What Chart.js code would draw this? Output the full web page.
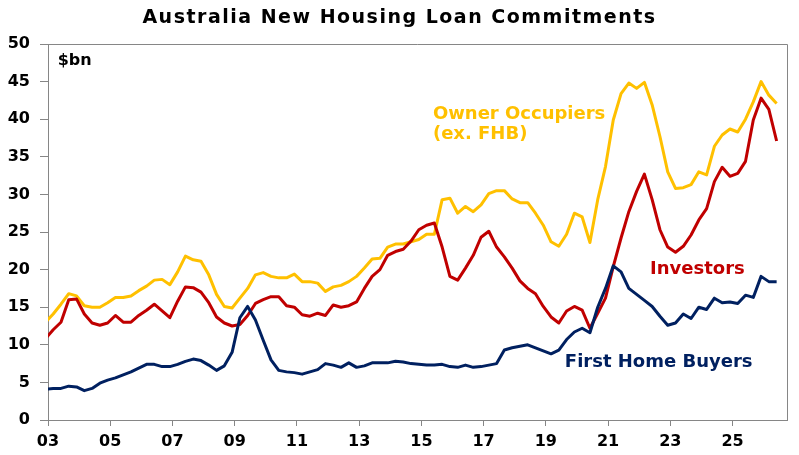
<!DOCTYPE html>
<html>
<head>
<meta charset="utf-8">
<script src="https://cdn.jsdelivr.net/npm/chart.js@4.4.1/dist/chart.umd.min.js"></script>
<style>
    html, body { margin: 0; padding: 0; background: #fff; }
    #wrap { width: 799px; height: 455px; }
</style>
</head>
<body>
<div id="wrap"><canvas id="housing"></canvas></div>
<script>
const title = 'Australia New Housing Loan Commitments'
const unit = '$bn'

// quarters, Dec-02 .. Jun-26
const quarters = ['2002-12']
for (let y = 2003; y <= 2026; y++) {
    for (const m of [3, 6, 9, 12]) {
        if (y === 2026 && m > 6) break
        quarters.push(`${y}-${String(m).padStart(2, '0')}`)
    }
}

const yearTicks = [2003, 2005, 2007, 2009, 2011, 2013, 2015, 2017, 2019, 2021, 2023, 2025]

const ownerOccupiers = [13.0,
    14.1, 15.4, 16.8, 16.5, 15.2, 15.0, 15.0, 15.6, 16.3, 16.3,
    16.5, 17.2, 17.8, 18.6, 18.7, 18.0, 19.7, 21.8, 21.3, 21.1,
    19.3, 16.7, 15.1, 14.9, 16.2, 17.5, 19.3, 19.6, 19.1, 18.9,
    18.9, 19.4, 18.4, 18.4, 18.2, 17.1, 17.7, 17.9, 18.4, 19.1,
    20.2, 21.4, 21.5, 23.0, 23.4, 23.4, 23.7, 24.0, 24.7, 24.7,
    29.3, 29.5, 27.5, 28.4, 27.7, 28.6, 30.1, 30.5, 30.5, 29.4,
    28.9, 28.9, 27.5, 25.9, 23.7, 23.1, 24.7, 27.5, 27.0, 23.6,
    29.3, 33.7, 39.9, 43.4, 44.8, 44.1, 44.9, 41.9, 37.7, 33.0,
    30.8, 30.9, 31.3, 33.0, 32.6, 36.4, 37.9, 38.7, 38.3, 40.0,
    42.3, 45.0, 43.2, 42.1]

const investors = [10.8,
    12.0, 13.0, 16.0, 16.1, 14.1, 12.9, 12.6, 12.9, 13.9, 13.0,
    13.0, 13.9, 14.6, 15.4, 14.5, 13.6, 15.8, 17.7, 17.6, 17.0,
    15.6, 13.7, 12.9, 12.5, 12.7, 13.9, 15.5, 16.0, 16.4, 16.4,
    15.2, 15.0, 14.0, 13.8, 14.2, 13.9, 15.3, 15.0, 15.2, 15.7,
    17.5, 19.1, 20.0, 21.9, 22.4, 22.7, 23.8, 25.3, 25.9, 26.2,
    23.0, 19.1, 18.6, 20.2, 21.9, 24.3, 25.1, 23.0, 21.7, 20.2,
    18.5, 17.5, 16.8, 15.1, 13.7, 12.9, 14.5, 15.1, 14.6, 12.2,
    14.2, 16.2, 20.4, 24.2, 27.7, 30.4, 32.7, 29.3, 25.3, 23.0,
    22.3, 23.1, 24.6, 26.6, 28.1, 31.7, 33.6, 32.4, 32.8, 34.4,
    39.9, 42.8, 41.3, 37.1]

const firstHomeBuyers = [4.1,
    4.2, 4.2, 4.5, 4.4, 3.9, 4.2, 4.9, 5.3, 5.6, 6.0,
    6.4, 6.9, 7.4, 7.4, 7.1, 7.1, 7.4, 7.8, 8.1, 7.9,
    7.3, 6.6, 7.2, 9.0, 13.6, 15.1, 13.3, 10.6, 8.0, 6.6,
    6.4, 6.3, 6.1, 6.4, 6.7, 7.5, 7.3, 7.0, 7.6, 7.0,
    7.2, 7.6, 7.6, 7.6, 7.8, 7.7, 7.5, 7.4, 7.3, 7.3,
    7.4, 7.1, 7.0, 7.3, 7.0, 7.1, 7.3, 7.5, 9.3, 9.6,
    9.8, 10.0, 9.6, 9.2, 8.8, 9.3, 10.7, 11.7, 12.2, 11.6,
    15.0, 17.5, 20.5, 19.7, 17.5, 16.7, 15.9, 15.1, 13.8, 12.6,
    12.9, 14.1, 13.5, 15.0, 14.7, 16.2, 15.6, 15.7, 15.5, 16.6,
    16.3, 19.1, 18.4, 18.4]

const GOLD = '#FFC000'
const RED = '#C00000'
const NAVY = '#002060'
const AXIS = '#868686'
const FONT = '"DejaVu Sans", sans-serif'

Chart.defaults.font.family = FONT

// month-of-quarter -> position on a year axis
function quarterPos(q) {
    const [y, m] = q.split('-').map(Number)
    return y + (m - 1) / 12
}

function toPoints(values) {
    return values.map((v, i) => ({ x: quarterPos(quarters[i]), y: v }))
}

// text placed on the chart in data units
const seriesLabels = [
    { text: 'Owner Occupiers', color: GOLD, x: 2015.37, y: 40.6, size: 18 },
    { text: '(ex. FHB)', color: GOLD, x: 2015.37, y: 38.0, size: 18 },
    { text: 'Investors', color: RED, x: 2022.35, y: 20.0, size: 18 },
    { text: 'First Home Buyers', color: NAVY, x: 2019.61, y: 7.7, size: 18 },
    { text: unit, color: '#000', x: 2003.31, y: 47.7, size: 16 }
]

const decorations = {
    id: 'decorations',
    beforeDatasetsDraw(chart) {
        const { ctx, chartArea: a } = chart
        ctx.save()
        ctx.strokeStyle = AXIS
        ctx.lineWidth = 1
        ctx.beginPath()
        ctx.moveTo(a.left, a.top + 0.5)
        ctx.lineTo(a.right + 0.5, a.top + 0.5)
        ctx.lineTo(a.right + 0.5, a.bottom)
        ctx.stroke()
        ctx.restore()
    },
    afterDraw(chart) {
        const { ctx, scales } = chart
        ctx.save()
        ctx.textBaseline = 'middle'
        ctx.textAlign = 'center'
        ctx.fillStyle = '#000'
        ctx.font = `bold 19px ${FONT}`
        ctx.letterSpacing = '1.5px'
        ctx.fillText(title, chart.width / 2, 18)
        ctx.letterSpacing = '0px'

        ctx.textAlign = 'left'
        seriesLabels.forEach(l => {
            ctx.fillStyle = l.color
            ctx.font = `bold ${l.size}px ${FONT}`
            ctx.fillText(l.text, scales.x.getPixelForValue(l.x), scales.y.getPixelForValue(l.y))
        })
        ctx.restore()
    }
}

function lineSet(label, values, color) {
    return {
        label: label,
        data: toPoints(values),
        borderColor: color,
        backgroundColor: color,
        borderWidth: 3,
        borderJoinStyle: 'round',
        pointRadius: 0,
        tension: 0,
        clip: 0
    }
}

const ctx = document.getElementById('housing')

new Chart(ctx, {
    type: 'line',
    data: {
        datasets: [
            lineSet('First Home Buyers', firstHomeBuyers, NAVY),
            lineSet('Investors', investors, RED),
            lineSet('Owner Occupiers (ex. FHB)', ownerOccupiers, GOLD)
        ]
    },
    options: {
        responsive: true,
        maintainAspectRatio: false,
        animation: false,
        layout: { padding: { top: 44, right: 12, left: 0, bottom: 0 } },
        plugins: {
            legend: { display: false },
            title: { display: false },
            tooltip: { enabled: false }
        },
        scales: {
            x: {
                type: 'linear',
                min: 2003,
                max: 2026.75,
                afterBuildTicks: (axis) => {
                    axis.ticks = yearTicks.map(v => ({ value: v }))
                },
                afterFit: (scale) => { scale.height = 35 },
                grid: { drawOnChartArea: false, tickLength: 6, color: AXIS },
                border: { color: AXIS, width: 1 },
                ticks: {
                    autoSkip: false,
                    maxRotation: 0,
                    padding: 6,
                    color: '#000',
                    font: { size: 16, weight: 'bold' },
                    callback: (v) => String(v % 100).padStart(2, '0')
                }
            },
            y: {
                min: 0,
                max: 50,
                afterFit: (scale) => { scale.width = 48 },
                grid: { drawOnChartArea: false, tickLength: 8, color: AXIS },
                border: { color: AXIS, width: 1 },
                ticks: {
                    stepSize: 5,
                    padding: 10,
                    color: '#000',
                    font: { size: 16, weight: 'bold' }
                }
            }
        }
    },
    plugins: [decorations]
})
</script>
</body>
</html>
